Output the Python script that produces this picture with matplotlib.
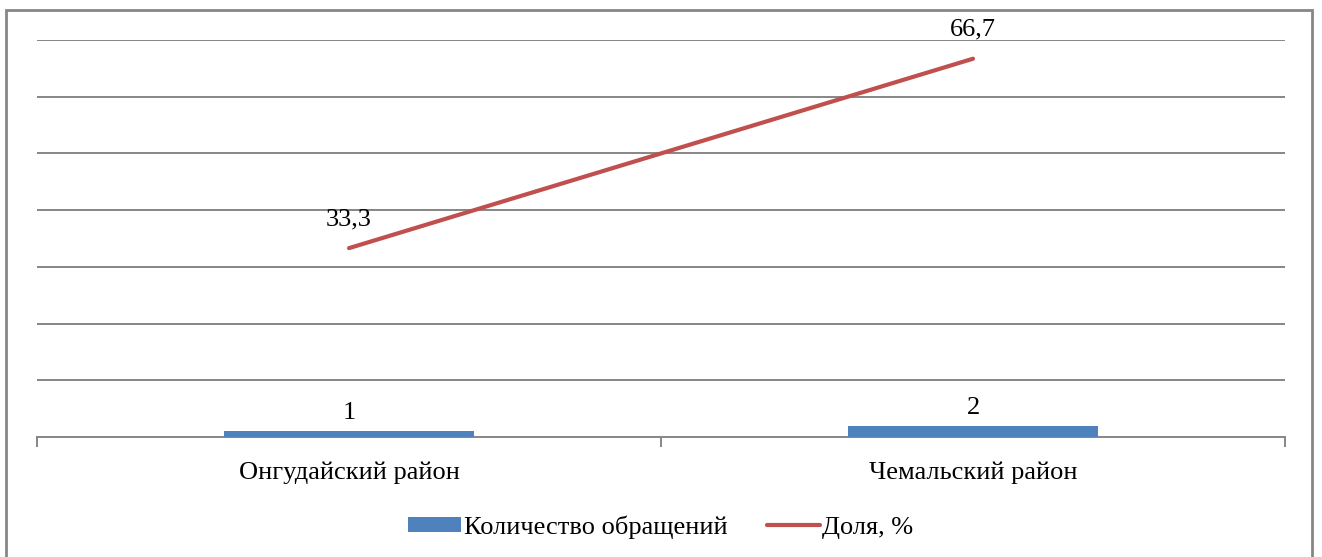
import matplotlib.pyplot as plt
from matplotlib.patches import Rectangle
import numpy as np

plt.rcParams['font.family'] = ['Liberation Serif', 'DejaVu Serif']

# данные
districts = ["Онгудайский район", "Чемальский район"]
counts = [1, 2]
shares = [33.3, 66.7]
share_labels = ["33,3", "66,7"]

bar_color = "#4F81BD"
line_color = "#C0504D"
grid_color = "#868686"
fs = 19

fig = plt.figure(figsize=(13.22, 5.57), dpi=100)
ax = fig.add_axes([37 / 1322, 120 / 557, 1248 / 1322, 397 / 557])

x = np.arange(len(districts))
bars = ax.bar(x, counts, width=0.4, color=bar_color, label="Количество обращений", zorder=3)
line, = ax.plot(x, shares, color=line_color, linewidth=3, solid_capstyle="round",
                label="Доля, %", zorder=4)

for xi, c in zip(x, counts):
    ax.annotate(str(c), (xi, c), xytext=(0, 7), textcoords="offset pixels",
                ha="center", va="bottom", fontsize=fs)
for xi, s, lab in zip(x, shares, share_labels):
    ax.annotate(lab, (xi, s), xytext=(0, 18), textcoords="offset pixels",
                ha="center", va="bottom", fontsize=fs)

ax.set_xlim(-0.5, 1.5)
ax.set_ylim(0, 70)
ax.set_yticks(np.arange(10, 71, 10))
ax.yaxis.grid(True, color=grid_color, linewidth=1.4)
ax.set_axisbelow(True)
ax.tick_params(axis="y", left=False, labelleft=False)

ax.set_xticks([-0.5, 0.5, 1.5])
ax.set_xticklabels([])
ax.set_xticks(x, minor=True)
ax.set_xticklabels(districts, minor=True, fontsize=fs)
ax.tick_params(axis="x", which="major", length=7, color=grid_color, width=1.4)
ax.tick_params(axis="x", which="minor", length=0, pad=18)

for side in ["top", "right", "left"]:
    ax.spines[side].set_visible(False)
ax.spines["bottom"].set_color(grid_color)
ax.spines["bottom"].set_linewidth(1.4)

ax.legend([bars, line], ["Количество обращений", "Доля, %"], loc="center",
          bbox_to_anchor=(0.5, 30 / 557), bbox_transform=fig.transFigure,
          ncol=2, frameon=False, fontsize=fs, handlelength=2.0, handleheight=0.5,
          handletextpad=0.1, columnspacing=1.5)

# рамка вокруг диаграммы
fig.patches.append(Rectangle((6 / 1322, -0.05), 1306 / 1322, 1.05 - 10 / 557,
                             transform=fig.transFigure, fill=False,
                             edgecolor=grid_color, linewidth=2))

fig.savefig("out.png", dpi=100)
